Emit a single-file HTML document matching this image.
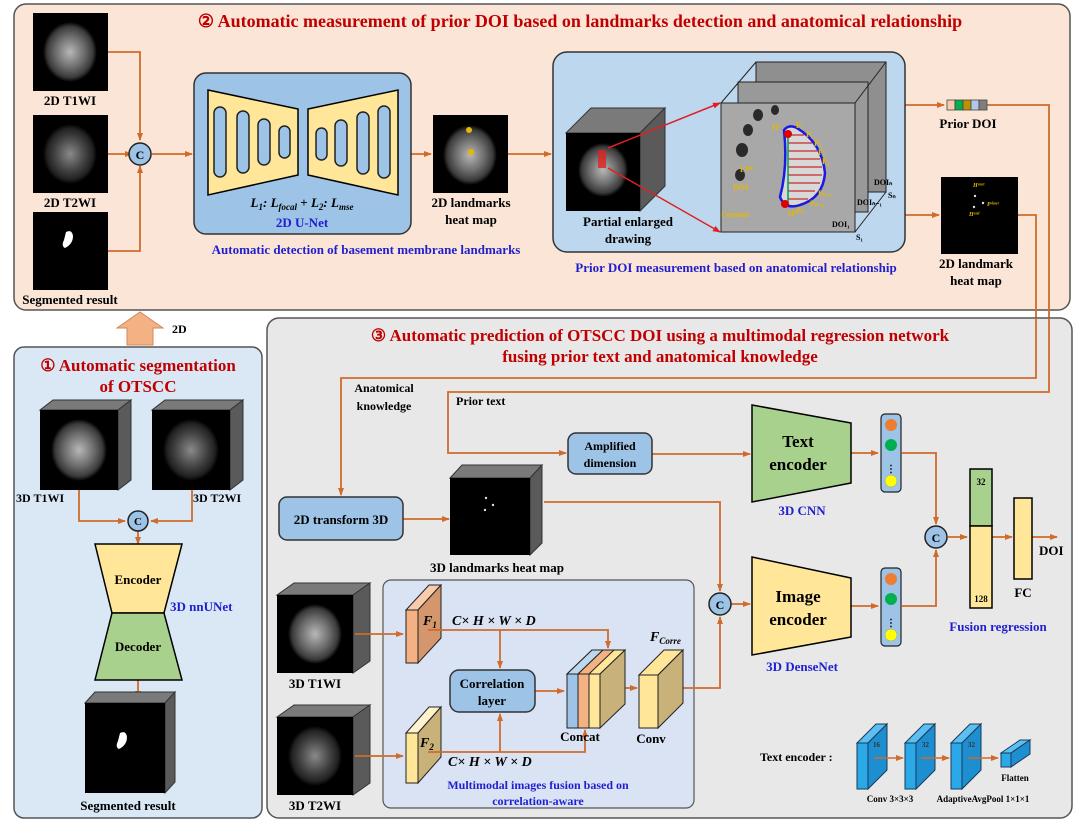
<!DOCTYPE html>
<html><head><meta charset="utf-8"><style>
html,body{margin:0;padding:0;background:#fff;}
svg{display:block;}
text{font-family:"Liberation Serif",serif;font-weight:bold;}
</style></head><body>
<svg width="1080" height="826" viewBox="0 0 1080 826" xmlns="http://www.w3.org/2000/svg">
<defs>
<radialGradient id="mri" cx="50%" cy="50%" r="50%">
<stop offset="0" stop-color="#b8b8b8"/><stop offset="0.55" stop-color="#6a6a6a"/><stop offset="0.85" stop-color="#3a3a3a"/><stop offset="1" stop-color="#000"/>
</radialGradient>
<radialGradient id="mri2" cx="50%" cy="50%" r="50%">
<stop offset="0" stop-color="#8a8a8a"/><stop offset="0.55" stop-color="#444"/><stop offset="0.85" stop-color="#222"/><stop offset="1" stop-color="#000"/>
</radialGradient>
<marker id="ar" markerWidth="8" markerHeight="8" refX="7" refY="4" orient="auto" markerUnits="userSpaceOnUse"><path d="M0,1 L8,4 L0,7 z" fill="#d06b2b"/></marker>
<marker id="rr" markerWidth="8" markerHeight="8" refX="7" refY="4" orient="auto" markerUnits="userSpaceOnUse"><path d="M0,1 L8,4 L0,7 z" fill="#e02020"/></marker>
</defs>

<!-- Panel 2 -->
<rect x="14" y="4" width="1056" height="306" rx="12" fill="#fbe5d6" stroke="#555" stroke-width="1.5"/>
<text x="580" y="27" font-size="18" fill="#c00000" text-anchor="middle">② Automatic measurement of prior DOI based on landmarks detection and anatomical relationship</text>

<!-- 2D images -->
<rect x="33" y="13" width="75" height="78" fill="#000"/><ellipse cx="70" cy="52" rx="27" ry="30" fill="url(#mri)"/>
<text x="70" y="105" font-size="13" text-anchor="middle">2D T1WI</text>
<rect x="33" y="115" width="75" height="78" fill="#000"/><ellipse cx="70" cy="154" rx="27" ry="30" fill="url(#mri2)"/>
<text x="70" y="207" font-size="13" text-anchor="middle">2D T2WI</text>
<rect x="33" y="212" width="75" height="78" fill="#000"/><path d="M66,232 q6,-3 7,4 q0,8 -8,12 q-4,-2 -1,-8 z" fill="#fff"/>
<text x="70" y="304" font-size="13" text-anchor="middle">Segmented result</text>

<g stroke="#d06b2b" stroke-width="1.8" fill="none">
<path d="M108,52 H140 V140" marker-end="url(#ar)"/>
<path d="M108,154 H132" marker-end="url(#ar)"/>
<path d="M108,251 H140 V166" marker-end="url(#ar)"/>
<path d="M152,154 H192" marker-end="url(#ar)"/>
<path d="M411,154 H431" marker-end="url(#ar)"/>
<path d="M508,154 H551" marker-end="url(#ar)"/>
<path d="M905,105 H944" marker-end="url(#ar)"/>
<path d="M905,215 H939" marker-end="url(#ar)"/>
<path d="M987,105 H1049 V392 H448 V453 H566" marker-end="url(#ar)"/>
<path d="M1018,215 H1036 V378 H341 V495" marker-end="url(#ar)"/>
</g>
<circle cx="140" cy="154" r="11" fill="#9dc3e6" stroke="#222" stroke-width="1.5"/>
<text x="140" y="159" font-size="12" text-anchor="middle">C</text>

<!-- U-Net -->
<rect x="194" y="73" width="217" height="161" rx="12" fill="#9dc3e6" stroke="#333" stroke-width="1.5"/>
<polygon points="208,90 298,109 298,175 208,195" fill="#ffe699" stroke="#000" stroke-width="1.5"/>
<polygon points="308,109 398,90 398,195 308,175" fill="#ffe699" stroke="#000" stroke-width="1.5"/>
<g fill="#9dc3e6" stroke="#222" stroke-width="1.5">
<rect x="214" y="107" width="12" height="70" rx="6"/><rect x="237" y="111" width="12" height="62" rx="6"/><rect x="258" y="119" width="12" height="46" rx="6"/><rect x="279" y="126" width="11" height="32" rx="5.5"/>
<rect x="316" y="128" width="11" height="32" rx="5.5"/><rect x="335" y="120" width="12" height="46" rx="6"/><rect x="357" y="112" width="12" height="62" rx="6"/><rect x="378" y="106" width="12" height="72" rx="6"/>
</g>
<text x="302" y="207" font-size="13" font-style="italic" text-anchor="middle">L<tspan font-size="9" dy="3">1</tspan><tspan dy="-3">: L</tspan><tspan font-size="9" dy="3">focal</tspan><tspan dy="-3" font-style="normal">  +  </tspan><tspan>L</tspan><tspan font-size="9" dy="3">2</tspan><tspan dy="-3">: L</tspan><tspan font-size="9" dy="3">mse</tspan></text>
<text x="302" y="227" font-size="13" fill="#1f1fd0" text-anchor="middle">2D U-Net</text>
<text x="366" y="254" font-size="13" fill="#1f1fd0" text-anchor="middle">Automatic detection of basement membrane landmarks</text>

<rect x="433" y="115" width="75" height="78" fill="#000"/><ellipse cx="470" cy="155" rx="27" ry="30" fill="url(#mri)"/>
<circle cx="469" cy="130" r="3" fill="#e8b800"/><circle cx="471" cy="152" r="3" fill="#e8b800"/>
<text x="471" y="207" font-size="13" text-anchor="middle">2D landmarks</text>
<text x="471" y="224" font-size="13" text-anchor="middle">heat map</text>

<!-- big blue box -->
<rect x="553" y="52" width="352" height="200" rx="14" fill="#bdd7ee" stroke="#333" stroke-width="1.5"/>
<polygon points="566,133 591,108 665,108 640,133" fill="#7a7a7a" stroke="#333"/>
<polygon points="640,133 665,108 665,186 640,211" fill="#5a5a5a" stroke="#333"/>
<rect x="566" y="133" width="74" height="78" fill="#000"/><ellipse cx="603" cy="170" rx="25" ry="27" fill="url(#mri)"/>
<rect x="598" y="150" width="8" height="18" fill="#e02020" opacity="0.8"/>
<line x1="608" y1="148" x2="720" y2="103" stroke="#e02020" stroke-width="1.5" marker-end="url(#rr)"/>
<line x1="608" y1="168" x2="720" y2="232" stroke="#e02020" stroke-width="1.5" marker-end="url(#rr)"/>
<text x="628" y="226" font-size="13" text-anchor="middle">Partial enlarged</text>
<text x="628" y="243" font-size="13" text-anchor="middle">drawing</text>
<!-- stacked slices -->
<rect x="756" y="62" width="130" height="130" fill="#8f8f8f" stroke="#222"/>
<rect x="738" y="82" width="130" height="130" fill="#999" stroke="#222"/>
<rect x="721" y="103" width="134" height="129" fill="#a8a8a8" stroke="#222"/>
<line x1="721" y1="103" x2="756" y2="62" stroke="#222"/><line x1="855" y1="103" x2="886" y2="62" stroke="#222"/><line x1="855" y1="232" x2="886" y2="192" stroke="#222"/>
<g fill="#2a2a2a"><ellipse cx="748" cy="130" rx="5" ry="6"/><ellipse cx="758" cy="115" rx="5" ry="6"/><ellipse cx="742" cy="150" rx="6" ry="7"/><ellipse cx="740" cy="175" rx="5" ry="6"/><ellipse cx="775" cy="110" rx="4" ry="5"/></g>
<path d="M784,130 q5,-6 13,-2 q25,15 28,45 q-2,25 -25,32 q-15,5 -20,-8 q8,-30 4,-67 z" fill="#d8d8d8" stroke="#1a1ae0" stroke-width="2.5"/>
<g stroke="#c00000" stroke-width="1"><line x1="788" y1="135" x2="804" y2="135"/><line x1="788" y1="143" x2="812" y2="143"/><line x1="788" y1="151" x2="817" y2="151"/><line x1="788" y1="159" x2="820" y2="159"/><line x1="788" y1="167" x2="822" y2="167"/><line x1="788" y1="175" x2="822" y2="175"/><line x1="788" y1="183" x2="820" y2="183"/><line x1="788" y1="191" x2="815" y2="191"/><line x1="788" y1="199" x2="808" y2="199"/></g>
<line x1="788" y1="133" x2="788" y2="203" stroke="#00a050" stroke-width="1.5"/>
<circle cx="788" cy="134" r="4" fill="#e00000"/><circle cx="785" cy="204" r="4" fill="#e00000"/>
<g font-size="8" fill="#e6b800"><text x="772" y="130">H¹</text><text x="796" y="128">P₁</text><text x="806" y="137">P₂</text><text x="814" y="146">P₃</text><text x="818" y="155">P₈</text><text x="822" y="164">P₉</text><text x="818" y="196">Pₙ₋₂</text><text x="810" y="206">Pₙ₋₁</text><text x="796" y="213">Pₙ</text><text x="788" y="216">H²</text><text x="740" y="172">Lᴮᴹ</text><text x="733" y="190">DOI</text><text x="721" y="217">Contour</text></g>
<g font-size="8" fill="#000"><text x="832" y="227">DOI₁</text><text x="857" y="205">DOIₙ₋₁</text><text x="874" y="185">DOIₙ</text><text x="856" y="240">S₁</text><text x="888" y="198">Sₙ</text></g>
<text x="736" y="272" font-size="13" fill="#1f1fd0" text-anchor="middle">Prior DOI measurement based on anatomical relationship</text>

<!-- prior DOI bar -->
<rect x="947" y="100" width="8" height="10" fill="#f8cbad" stroke="#444" stroke-width="0.8"/>
<rect x="955" y="100" width="8" height="10" fill="#00b050" stroke="#444" stroke-width="0.8"/>
<rect x="963" y="100" width="8" height="10" fill="#bf9000" stroke="#444" stroke-width="0.8"/>
<rect x="971" y="100" width="8" height="10" fill="#b4c7e7" stroke="#444" stroke-width="0.8"/>
<rect x="979" y="100" width="8" height="10" fill="#7f7f7f" stroke="#444" stroke-width="0.8"/>
<text x="968" y="128" font-size="13" text-anchor="middle">Prior DOI</text>
<rect x="941" y="177" width="77" height="77" fill="#000"/>
<g fill="#ddd"><circle cx="975" cy="196" r="1.2"/><circle cx="983" cy="203" r="1.2"/><circle cx="974" cy="207" r="1.2"/></g>
<g font-size="6" fill="#e6b800" font-style="italic"><text x="973" y="187">Hˢᵗᵃʳᵗ</text><text x="987" y="206">Pⁱⁿⁿᵉʳ</text><text x="969" y="216">Hᵉⁿᵈ</text></g>
<text x="976" y="268" font-size="13" text-anchor="middle">2D landmark</text>
<text x="976" y="285" font-size="13" text-anchor="middle">heat map</text>

<!-- Panel 1 -->
<polygon points="127,345 127,328 117,328 140,312 163,328 153,328 153,345" fill="#f4b183" stroke="#d08a5a"/>
<text x="172" y="333" font-size="12">2D</text>
<rect x="14" y="347" width="248" height="471" rx="10" fill="#dae8f6" stroke="#555" stroke-width="1.5"/>
<text x="138" y="371" font-size="17" fill="#c00000" text-anchor="middle">① Automatic segmentation</text>
<text x="138" y="392" font-size="17" fill="#c00000" text-anchor="middle">of OTSCC</text>
<polygon points="40,410 53,400 131,400 118,410" fill="#7a7a7a" stroke="#333"/><polygon points="118,410 131,400 131,480 118,490" fill="#5a5a5a" stroke="#333"/>
<rect x="40" y="410" width="78" height="80" fill="#000"/><ellipse cx="79" cy="450" rx="28" ry="31" fill="url(#mri)"/>
<polygon points="152,410 165,400 243,400 230,410" fill="#7a7a7a" stroke="#333"/><polygon points="230,410 243,400 243,480 230,490" fill="#5a5a5a" stroke="#333"/>
<rect x="152" y="410" width="78" height="80" fill="#000"/><ellipse cx="191" cy="450" rx="28" ry="31" fill="url(#mri2)"/>
<text x="16" y="502" font-size="12">3D T1WI</text>
<text x="193" y="502" font-size="12">3D T2WI</text>
<g stroke="#d06b2b" stroke-width="1.8" fill="none">
<path d="M79,490 V521 H125" marker-end="url(#ar)"/>
<path d="M192,490 V521 H151" marker-end="url(#ar)"/>
<path d="M138,531 V544" marker-end="url(#ar)"/>
<path d="M138,680 V698" marker-end="url(#ar)"/>
</g>
<circle cx="138" cy="521" r="10" fill="#9dc3e6" stroke="#222" stroke-width="1.5"/><text x="138" y="525" font-size="11" text-anchor="middle">C</text>
<polygon points="95,544 182,544 164,613 112,613" fill="#ffe699" stroke="#000" stroke-width="1.5"/>
<polygon points="112,613 164,613 182,680 95,680" fill="#a9d18e" stroke="#000" stroke-width="1.5"/>
<text x="138" y="584" font-size="13" text-anchor="middle">Encoder</text>
<text x="138" y="651" font-size="13" text-anchor="middle">Decoder</text>
<text x="170" y="611" font-size="13" fill="#1f1fd0">3D nnUNet</text>
<polygon points="85,703 95,692 175,692 165,703" fill="#7a7a7a" stroke="#333"/><polygon points="165,703 175,692 175,782 165,793" fill="#5a5a5a" stroke="#333"/>
<rect x="85" y="703" width="80" height="90" fill="#000"/><path d="M120,733 q6,-3 7,4 q0,8 -8,12 q-4,-2 -1,-8 z" fill="#fff"/>
<text x="128" y="810" font-size="13" text-anchor="middle">Segmented result</text>

<!-- Panel 3 -->
<rect x="267" y="318" width="805" height="500" rx="12" fill="#e8e8e8" stroke="#555" stroke-width="1.5"/>
<text x="660" y="341" font-size="17" fill="#c00000" text-anchor="middle">③ Automatic prediction of OTSCC DOI using a multimodal regression network</text>
<text x="660" y="362" font-size="17" fill="#c00000" text-anchor="middle">fusing prior text and anatomical knowledge</text>
<text x="384" y="392" font-size="12" text-anchor="middle">Anatomical</text>
<text x="384" y="410" font-size="12" text-anchor="middle">knowledge</text>
<text x="456" y="405" font-size="12">Prior text</text>

<!-- redraw top connectors over panel3 -->
<g stroke="#d06b2b" stroke-width="1.8" fill="none">
<path d="M1049,318 V392 H448 V453 H566" marker-end="url(#ar)"/>
<path d="M1036,318 V378 H341 V495" marker-end="url(#ar)"/>
<path d="M403,519 H449" marker-end="url(#ar)"/>
<path d="M652,454 H750" marker-end="url(#ar)"/>
<path d="M851,453 H878" marker-end="url(#ar)"/>
<path d="M851,606 H878" marker-end="url(#ar)"/>
<path d="M902,453 H936 V524" marker-end="url(#ar)"/>
<path d="M902,606 H936 V550" marker-end="url(#ar)"/>
<path d="M948,537 H967" marker-end="url(#ar)"/>
<path d="M992,537 H1012" marker-end="url(#ar)"/>
<path d="M1032,537 H1057" marker-end="url(#ar)"/>
<path d="M544,502 H720 V591" marker-end="url(#ar)"/>
<path d="M728,604 H750" marker-end="url(#ar)"/>
</g>

<rect x="279" y="497" width="124" height="43" rx="8" fill="#9dc3e6" stroke="#333" stroke-width="1.5"/>
<text x="341" y="524" font-size="13" text-anchor="middle">2D transform 3D</text>
<polygon points="450,478 462,465 542,465 530,478" fill="#7a7a7a" stroke="#333"/><polygon points="530,478 542,465 542,543 530,555" fill="#5a5a5a" stroke="#333"/>
<rect x="450" y="478" width="80" height="77" fill="#000"/>
<g fill="#ddd"><circle cx="486" cy="498" r="1.2"/><circle cx="493" cy="505" r="1.2"/><circle cx="485" cy="510" r="1.2"/></g>
<text x="497" y="572" font-size="13" text-anchor="middle">3D landmarks heat map</text>
<rect x="568" y="433" width="84" height="41" rx="8" fill="#9dc3e6" stroke="#333" stroke-width="1.5"/>
<text x="610" y="450" font-size="12" text-anchor="middle">Amplified</text>
<text x="610" y="467" font-size="12" text-anchor="middle">dimension</text>

<polygon points="752,405 851,423 851,483 752,502" fill="#a9d18e" stroke="#000" stroke-width="1.5"/>
<text x="798" y="447" font-size="17" text-anchor="middle">Text</text>
<text x="798" y="470" font-size="17" text-anchor="middle">encoder</text>
<text x="802" y="515" font-size="13" fill="#1f1fd0" text-anchor="middle">3D CNN</text>
<polygon points="752,557 851,578 851,637 752,655" fill="#ffe699" stroke="#000" stroke-width="1.5"/>
<text x="798" y="602" font-size="17" text-anchor="middle">Image</text>
<text x="798" y="625" font-size="17" text-anchor="middle">encoder</text>
<text x="802" y="671" font-size="13" fill="#1f1fd0" text-anchor="middle">3D DenseNet</text>

<rect x="881" y="414" width="20" height="78" rx="4" fill="#9dc3e6" stroke="#222" stroke-width="1.2"/>
<circle cx="891" cy="425" r="6" fill="#ed7d31"/><circle cx="891" cy="445" r="6" fill="#00b050"/><text x="891" y="472" font-size="10" text-anchor="middle">⋮</text><circle cx="891" cy="481" r="6" fill="#ffff00" stroke="#999" stroke-width="0.5"/>
<rect x="881" y="568" width="20" height="78" rx="4" fill="#9dc3e6" stroke="#222" stroke-width="1.2"/>
<circle cx="891" cy="579" r="6" fill="#ed7d31"/><circle cx="891" cy="599" r="6" fill="#00b050"/><text x="891" y="626" font-size="10" text-anchor="middle">⋮</text><circle cx="891" cy="635" r="6" fill="#ffff00" stroke="#999" stroke-width="0.5"/>

<circle cx="936" cy="537" r="11" fill="#9dc3e6" stroke="#222" stroke-width="1.5"/><text x="936" y="542" font-size="12" text-anchor="middle">C</text>
<rect x="970" y="469" width="22" height="57" fill="#a9d18e" stroke="#000" stroke-width="1.5"/>
<rect x="970" y="526" width="22" height="82" fill="#ffe699" stroke="#000" stroke-width="1.5"/>
<text x="981" y="485" font-size="9" text-anchor="middle">32</text>
<text x="981" y="602" font-size="9" text-anchor="middle">128</text>
<rect x="1014" y="498" width="18" height="81" fill="#ffe699" stroke="#000" stroke-width="1.5"/>
<text x="1023" y="597" font-size="13" text-anchor="middle">FC</text>
<text x="1039" y="555" font-size="13">DOI</text>
<text x="998" y="631" font-size="13" fill="#1f1fd0" text-anchor="middle">Fusion regression</text>

<!-- inner fusion box -->
<rect x="383" y="580" width="311" height="228" rx="8" fill="#dae3f3" stroke="#555" stroke-width="1.2"/>
<polygon points="277,595 294,583 370,583 353,595" fill="#7a7a7a" stroke="#333"/><polygon points="353,595 370,583 370,661 353,673" fill="#5a5a5a" stroke="#333"/>
<rect x="277" y="595" width="76" height="78" fill="#000"/><ellipse cx="315" cy="634" rx="27" ry="30" fill="url(#mri)"/>
<text x="315" y="688" font-size="13" text-anchor="middle">3D T1WI</text>
<polygon points="277,717 294,705 370,705 353,717" fill="#7a7a7a" stroke="#333"/><polygon points="353,717 370,705 370,783 353,795" fill="#5a5a5a" stroke="#333"/>
<rect x="277" y="717" width="76" height="78" fill="#000"/><ellipse cx="315" cy="756" rx="27" ry="30" fill="url(#mri2)"/>
<text x="315" y="810" font-size="13" text-anchor="middle">3D T2WI</text>

<!-- F1 F2 -->
<polygon points="406,610 429,585 441,585 418,610" fill="#f8cbad" stroke="#222"/>
<polygon points="418,610 441,585 441,638 418,663" fill="#d4966c" stroke="#222"/>
<rect x="406" y="610" width="12" height="53" fill="#f4b183" stroke="#222"/>
<polygon points="406,733 429,707 441,707 418,733" fill="#fff2cc" stroke="#222"/>
<polygon points="418,733 441,707 441,757 418,783" fill="#c9b27a" stroke="#222"/>
<rect x="406" y="733" width="12" height="50" fill="#ffe699" stroke="#222"/>
<text x="423" y="625" font-size="14" font-style="italic">F<tspan font-size="9" dy="3">1</tspan></text>
<text x="420" y="747" font-size="14" font-style="italic">F<tspan font-size="9" dy="3">2</tspan></text>
<text x="452" y="625" font-size="14" font-style="italic">C× H × W × D</text>
<text x="448" y="766" font-size="14" font-style="italic">C× H × W × D</text>

<g stroke="#d06b2b" stroke-width="1.8" fill="none">
<path d="M355,634 H403" marker-end="url(#ar)"/>
<path d="M355,756 H403" marker-end="url(#ar)"/>
<path d="M428,630 H608 V648" marker-end="url(#ar)"/>
<path d="M500,630 V668" marker-end="url(#ar)"/>
<path d="M428,752 H585 V730" marker-end="url(#ar)"/>
<path d="M500,752 V714" marker-end="url(#ar)"/>
<path d="M535,691 H564" marker-end="url(#ar)"/>
<path d="M610,688 H637" marker-end="url(#ar)"/>
<path d="M660,688 H720 V617" marker-end="url(#ar)"/>
</g>
<circle cx="720" cy="604" r="11" fill="#9dc3e6" stroke="#222" stroke-width="1.5"/><text x="720" y="609" font-size="12" text-anchor="middle">C</text>

<rect x="450" y="670" width="85" height="42" rx="9" fill="#9dc3e6" stroke="#333" stroke-width="1.5"/>
<text x="492" y="688" font-size="13" text-anchor="middle">Correlation</text>
<text x="492" y="705" font-size="13" text-anchor="middle">layer</text>

<!-- concat -->
<polygon points="567,674 592,650 625,650 600,674" fill="#ffe699" stroke="#222"/>
<polygon points="567,674 592,650 603,650 578,674" fill="#bdd7ee" stroke="#222"/>
<polygon points="578,674 603,650 614,650 589,674" fill="#f4b183" stroke="#222"/>
<polygon points="600,674 625,650 625,704 600,728" fill="#c9b27a" stroke="#222"/>
<rect x="567" y="674" width="11" height="54" fill="#9dc3e6" stroke="#222"/>
<rect x="578" y="674" width="11" height="54" fill="#f4b183" stroke="#222"/>
<rect x="589" y="674" width="11" height="54" fill="#ffe699" stroke="#222"/>
<text x="580" y="741" font-size="13" text-anchor="middle">Concat</text>
<!-- conv -->
<polygon points="639,675 664,650 683,650 658,675" fill="#ffe699" stroke="#222"/>
<polygon points="658,675 683,650 683,703 658,728" fill="#c9b27a" stroke="#222"/>
<rect x="639" y="675" width="19" height="53" fill="#ffe699" stroke="#222"/>
<text x="651" y="743" font-size="13" text-anchor="middle">Conv</text>
<text x="650" y="641" font-size="14" font-style="italic">F<tspan font-size="9" dy="3">Corre</tspan></text>
<text x="538" y="789" font-size="12" fill="#1f1fd0" text-anchor="middle">Multimodal images fusion based on</text>
<text x="538" y="805" font-size="12" fill="#1f1fd0" text-anchor="middle">correlation-aware</text>

<!-- text encoder legend -->
<text x="760" y="761" font-size="12">Text encoder :</text>
<g stroke="#1a3a5a" stroke-width="1">
<polygon points="857,743 876,724 887,724 868,743" fill="#5bc0f0"/><polygon points="868,743 887,724 887,770 868,789" fill="#1d8fd0"/><rect x="857" y="743" width="11" height="46" fill="#2aa8e8"/>
<polygon points="905,743 924,724 935,724 916,743" fill="#5bc0f0"/><polygon points="916,743 935,724 935,770 916,789" fill="#1d8fd0"/><rect x="905" y="743" width="11" height="46" fill="#2aa8e8"/>
<polygon points="951,743 970,724 981,724 962,743" fill="#5bc0f0"/><polygon points="962,743 981,724 981,770 962,789" fill="#1d8fd0"/><rect x="951" y="743" width="11" height="46" fill="#2aa8e8"/>
<polygon points="1001,753 1020,740 1030,740 1011,753" fill="#5bc0f0"/><polygon points="1011,753 1030,740 1030,754 1011,767" fill="#1d8fd0"/><rect x="1001" y="753" width="10" height="14" fill="#2aa8e8"/>
</g>
<g font-size="7" fill="#333"><text x="873" y="747">16</text><text x="922" y="747">32</text><text x="968" y="747">32</text></g>
<g stroke="#d06b2b" stroke-width="1.5" fill="none">
<path d="M874,758 H903" marker-end="url(#ar)"/><path d="M921,758 H949" marker-end="url(#ar)"/><path d="M968,758 H998" marker-end="url(#ar)"/>
</g>
<text x="1015" y="781" font-size="9" text-anchor="middle">Flatten</text>
<text x="890" y="802" font-size="9" text-anchor="middle">Conv 3×3×3</text>
<text x="983" y="802" font-size="9" text-anchor="middle">AdaptiveAvgPool 1×1×1</text>
</svg>
</body></html>
